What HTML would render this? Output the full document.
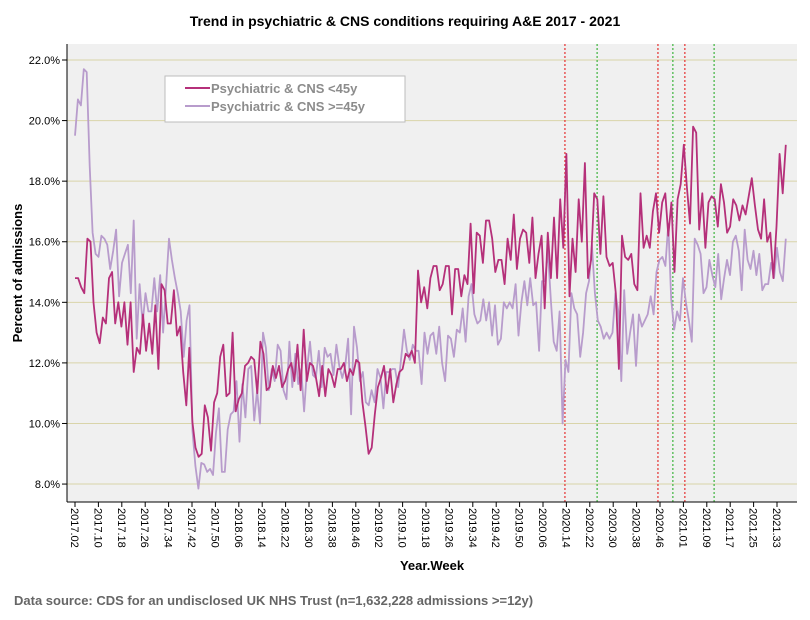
<!DOCTYPE html>
<html><head><meta charset="utf-8"><style>
body{margin:0;background:#fff;}
svg{display:block;font-family:"Liberation Sans",Arial,sans-serif;}
</style></head><body>
<svg id="chart" width="810" height="620" viewBox="0 0 810 620">
<rect x="0" y="0" width="810" height="620" fill="#fff"/>
<text x="405" y="26" text-anchor="middle" font-size="14" font-weight="bold" fill="#000">Trend in psychiatric &amp; CNS conditions requiring A&amp;E 2017 - 2021</text>
<rect x="67" y="44" width="730" height="458" fill="#f0f0f0"/>
<g id="grid"></g>
<g id="events"></g>
<g id="series"></g>
<line x1="67" y1="44" x2="67" y2="502" stroke="#000"/>
<line x1="67" y1="502" x2="797" y2="502" stroke="#000"/>
<g id="yticks"></g>
<g id="xticks"></g>
<text transform="translate(22,273) rotate(-90)" text-anchor="middle" font-size="13" font-weight="bold">Percent of admissions</text>
<text x="432" y="570" text-anchor="middle" font-size="13" font-weight="bold">Year.Week</text>
<text x="14" y="605" font-size="13" font-weight="bold" fill="#666">Data source: CDS for an undisclosed UK NHS Trust (n=1,632,228 admissions &gt;=12y)</text>
<g>
<rect x="165" y="76" width="240" height="46" fill="#fff" stroke="#bdbdbd"/>
<line x1="185" y1="88" x2="210" y2="88" stroke="#b5307a" stroke-width="2"/>
<text x="211" y="93" font-size="13" font-weight="bold" fill="#8c8c8c">Psychiatric &amp; CNS &lt;45y</text>
<line x1="185" y1="106" x2="210" y2="106" stroke="#b89ccc" stroke-width="2"/>
<text x="211" y="111" font-size="13" font-weight="bold" fill="#8c8c8c">Psychiatric &amp; CNS &gt;=45y</text>
</g>
</svg>
<script>
const yTicks=[8,10,12,14,16,18,20,22];
const xLabels=["2017.02","2017.10","2017.18","2017.26","2017.34","2017.42","2017.50","2018.06","2018.14","2018.22","2018.30","2018.38","2018.46","2019.02","2019.10","2019.18","2019.26","2019.34","2019.42","2019.50","2020.06","2020.14","2020.22","2020.30","2020.38","2020.46","2021.01","2021.09","2021.17","2021.25","2021.33"];
const redEvents=[167.5,199.3,208.5];
const greenEvents=[178.5,204.4,218.5];
const under45=[14.8,14.8,14.5,14.3,16.1,16.0,14.0,13.0,12.65,13.5,13.3,14.8,15.0,13.3,14.0,13.2,14.0,12.6,14.0,11.7,12.5,12.3,13.6,12.4,13.3,12.3,13.9,11.8,14.6,14.4,13.3,13.3,14.4,12.9,13.2,11.7,10.6,12.5,10.05,9.2,8.9,9.0,10.6,10.2,9.1,10.7,11.0,12.2,12.6,10.9,11.0,13.0,10.4,10.8,11.0,11.9,12.0,12.2,
12.1,11.0,12.7,12.3,11.1,11.2,11.9,11.5,11.9,11.2,11.4,11.8,12.0,11.4,12.6,11.1,13.1,11.4,12.0,11.9,11.5,10.9,11.9,10.9,11.8,11.6,11.2,11.8,11.8,12.0,11.4,11.8,11.6,12.1,12.0,10.7,9.9,9.0,9.2,10.3,11.2,11.5,11.9,11.0,11.8,10.7,11.3,11.7,11.8,12.3,12.2,12.4,12.0,15.05,14.0,14.5,13.8,14.8,15.2,15.2,
14.4,14.6,15.2,15.2,13.6,15.1,15.1,14.2,14.9,14.6,16.6,14.3,16.3,16.2,15.3,16.7,16.7,16.1,15.0,15.4,15.4,14.6,16.1,15.4,16.9,15.1,16.1,16.4,16.3,15.3,16.8,14.8,15.6,16.2,13.8,16.3,14.8,16.8,14.8,17.4,15.8,18.9,14.2,16.1,15.0,17.4,16.0,18.6,14.8,15.4,17.6,17.4,15.6,17.5,15.5,15.2,
15.3,14.3,11.8,16.2,15.5,15.4,15.6,14.6,14.4,17.6,15.8,16.2,15.8,17.0,17.6,16.3,17.3,17.6,16.2,17.3,15.0,17.4,17.9,19.2,17.8,16.6,19.8,19.6,16.4,17.6,15.8,17.3,17.5,17.4,16.5,17.9,17.3,16.3,16.5,17.4,17.2,16.7,17.2,16.9,17.5,18.1,17.2,16.4,16.1,17.4,16.0,16.3,14.8,16.5,18.9,17.6,19.2];
const over45=[19.5,20.7,20.5,21.7,21.6,18.5,16.3,15.6,15.5,16.2,16.1,15.9,15.1,15.7,16.4,14.2,15.3,15.6,15.9,14.3,16.7,12.8,14.6,13.3,14.3,13.7,13.7,14.8,13.7,14.9,13.0,14.5,16.1,15.4,14.8,14.3,13.7,12.2,13.4,13.9,9.75,8.6,7.85,8.7,8.65,8.4,8.5,8.3,9.7,10.5,8.4,8.4,9.8,10.3,10.4,11.4,9.4,11.3,10.2,11.8,11.9,10.1,
11.1,10.0,13.0,12.5,11.1,11.8,11.4,12.6,12.4,11.1,10.8,12.7,11.2,12.3,11.3,11.8,10.4,11.8,12.7,11.6,11.5,12.4,11.2,12.5,12.2,12.3,11.6,12.6,11.9,11.5,11.9,12.8,10.3,13.2,12.5,11.4,11.7,10.7,10.6,11.1,10.7,11.8,11.5,10.5,11.7,11.7,11.8,11.8,11.2,12.1,13.1,12.4,12.1,12.6,12.4,12.4,11.3,13.0,12.3,12.9,
13.0,12.3,13.2,12.0,11.4,12.9,12.8,12.2,13.1,13.0,13.8,12.7,14.2,14.6,13.6,13.3,13.4,14.1,13.4,14.0,12.9,13.9,12.6,12.8,14.0,13.8,14.0,13.8,14.6,12.9,14.0,14.7,13.9,14.8,13.9,14.0,12.4,14.7,14.7,15.7,14.1,12.7,12.4,13.7,10.0,12.1,11.7,14.3,13.8,13.6,12.2,13.0,14.3,14.7,15.9,14.3,13.4,13.2,12.8,13.0,
12.8,13.0,14.3,13.7,11.4,14.4,12.3,13.0,13.6,11.9,13.6,13.2,13.4,13.6,14.2,13.6,15.0,15.4,15.5,15.2,16.6,14.1,13.1,13.7,13.4,14.8,14.0,13.4,12.7,16.1,15.9,15.6,14.3,14.5,15.4,14.9,14.5,15.6,14.1,14.8,15.4,14.9,16.0,16.2,15.7,14.4,16.4,15.4,15.1,15.7,14.9,15.6,14.4,14.6,14.6,15.3,14.8,15.8,15.0,14.7,16.1];

const NS="http://www.w3.org/2000/svg";
const X0=75, WK=2.925, LASTWEEK=243;
function xW(w){return X0+w*WK;}
function yV(v){return 60+(22-v)*30.29;}
function mk(tag,attrs,parent){const e=document.createElementNS(NS,tag);for(const k in attrs)e.setAttribute(k,attrs[k]);parent.appendChild(e);return e;}
const grid=document.getElementById('grid'),yt=document.getElementById('yticks'),xt=document.getElementById('xticks'),ev=document.getElementById('events'),sr=document.getElementById('series');
yTicks.forEach(v=>{
  const g=mk('line',{x1:67,x2:797,y1:yV(v),y2:yV(v),stroke:'#d9d4a9','stroke-width':1},grid);
  
  
  const t=mk('line',{x1:62,x2:67,y1:yV(v),y2:yV(v),stroke:'#000'},yt);
  
  
  const l=mk('text',{x:60,y:yV(v)+4,'text-anchor':'end','font-size':11},yt);
  l.textContent=v.toFixed(1)+'%';
  
  
});
xLabels.forEach((s,k)=>{
  const x=xW(k*8);
  const t=mk('line',{x1:x,x2:x,y1:502,y2:507,stroke:'#000'},xt);
  
  
  const l=mk('text',{transform:`translate(${x-4},508) rotate(90)`,'font-size':11},xt);
  l.textContent=s;
  
  
});
function evLine(w,color){
  const l=mk('line',{x1:xW(w),x2:xW(w),y1:44,y2:502,stroke:color,'stroke-width':1.2,'stroke-dasharray':'2,2'},ev);
  
  
}
redEvents.forEach(w=>evLine(w,'#e53030'));
greenEvents.forEach(w=>evLine(w,'#3cb43c'));
function drawSeries(arr,color,name){
  const n=arr.length;
  const pts=arr.map((v,i)=>xW(i*LASTWEEK/(n-1)).toFixed(1)+','+yV(v).toFixed(1)).join(' ');
  const p=mk('polyline',{points:pts,fill:'none',stroke:color,'stroke-width':1.8,'stroke-linejoin':'round'},sr);
  
  
}
drawSeries(over45,'#b89ccc','line-over45');
drawSeries(under45,'#b5307a','line-under45');
</script>
</body></html>
